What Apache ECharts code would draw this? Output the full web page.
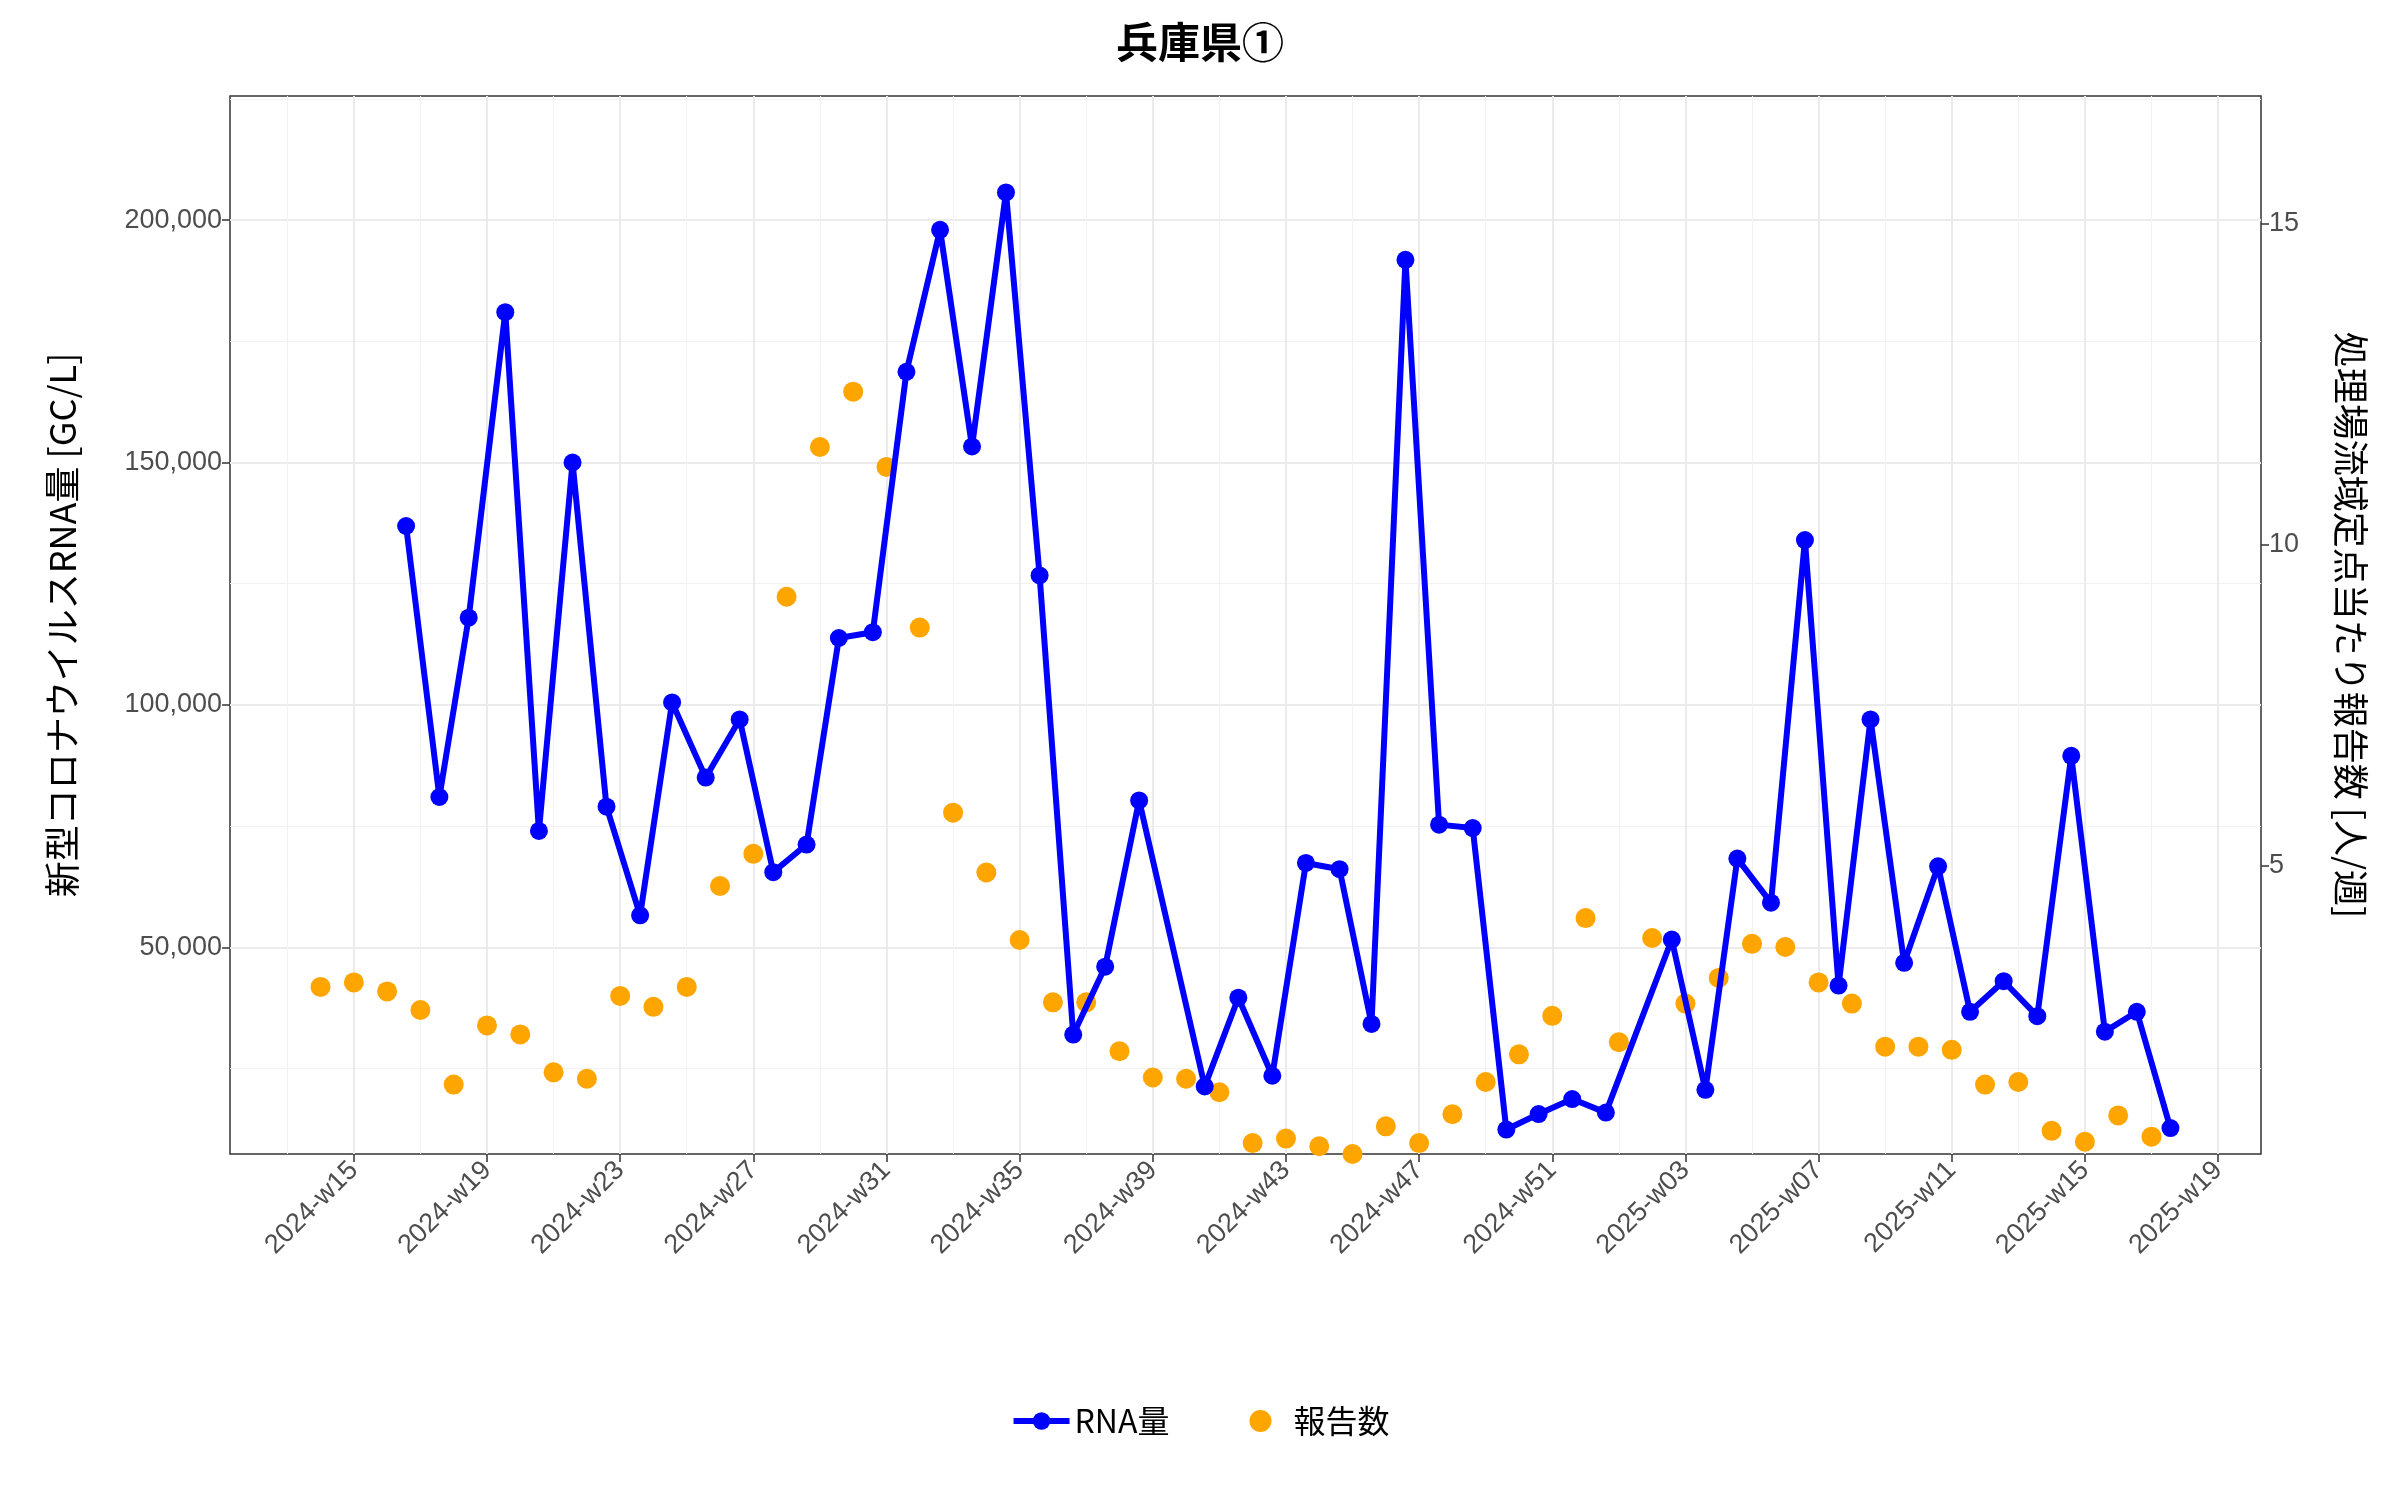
<!DOCTYPE html>
<html><head><meta charset="utf-8">
<script src="https://cdn.jsdelivr.net/npm/echarts@6/dist/echarts.min.js"></script>
<style>html,body{margin:0;background:#fff}#main{width:2400px;height:1500px}</style>
</head><body><div id="main"></div>
<script>
// weeks counted from 2024-w01 (2025-w01 = 53)
var rnaWeeks = [16.57,17.57,18.45,19.55,20.56,21.57,22.59,23.6,24.56,25.57,26.59,27.6,28.6,29.57,30.59,31.6,32.61,33.57,34.59,35.6,36.61,37.57,38.59,40.56,41.57,42.59,43.6,44.61,45.57,46.59,47.6,48.61,49.62,50.59,51.6,52.61,54.59,55.6,56.56,57.57,58.59,59.6,60.56,61.57,62.59,63.55,64.56,65.57,66.59,67.6,68.56,69.57];
var rnaValues = [136900,81000,118000,181000,74000,150000,79000,56600,100500,85000,97000,65500,71200,113800,115000,168700,198000,153300,205700,126700,32000,46000,80300,21300,39600,23500,67400,66100,34200,191800,75300,74600,12400,15600,18700,15900,51600,20600,68300,59200,134000,42100,97000,46800,66700,36700,43000,35800,89500,32600,36700,12700];
var reportWeeks = [14,15,16,17,18,19,20,21,22,23,24,25,26,27,28,29,30,31,32,33,34,35,36,37,38,39,40,41,42,43,44,45,46,47,48,49,50,51,52,53,54,55,56,57,58,59,60,61,62,63,64,65,66,67,68,69];
var reportValues = [3.12,3.19,3.05,2.76,1.6,2.52,2.38,1.79,1.69,2.98,2.81,3.12,4.69,5.19,9.19,11.52,12.38,11.21,8.71,5.83,4.9,3.85,2.88,2.88,2.12,1.71,1.69,1.48,0.69,0.76,0.64,0.52,0.95,0.69,1.14,1.64,2.07,2.67,4.19,2.26,3.88,2.86,3.26,3.79,3.74,3.19,2.86,2.19,2.19,2.14,1.6,1.64,0.88,0.71,1.12,0.79];
var xTicks = [15,19,23,27,31,35,39,43,47,51,55,59,63,67,71];
var xMinor = [13,17,21,25,29,33,37,41,45,49,53,57,61,65,69];
var leftTicks = [50000,100000,150000,200000];
var leftMinor = [25000,75000,125000,175000,225000];
var rightTicks = [5,10,15];

function weekLabel(v) {
    var w = Math.round(v);
    var y = 2024;
    if (w > 52) { w -= 52; y = 2025; }
    return y + '-w' + (w < 10 ? '0' + w : w);
}

var xMin = 11.28, xMax = 72.29;
var lMin = 7360, lMax = 225600, rMin = 0.52, rMax = 16.98;
var font = 'Liberation Sans, Arial, Noto Sans CJK JP';

var chart = echarts.init(document.getElementById('main'));
chart.setOption({
    backgroundColor: '#fff',
    textStyle: {fontFamily: font},
    title: {text: '兵庫県①', left: 'center', top: 16,
        textStyle: {fontSize: 42, fontWeight: 'bold', color: '#000', fontFamily: 'Noto Sans CJK JP'}},
    legend: {bottom: 58, itemGap: 80, itemWidth: 56, itemHeight: 22,
        textStyle: {fontSize: 32, color: '#000', fontFamily: 'Noto Sans CJK JP'},
        data: [{name: 'RNA量', itemStyle: {color: '#0000FF'}, lineStyle: {width: 6}}, {name: '報告数', icon: 'circle'}]},
    grid: {left: 230, right: 139, top: 96, bottom: 346, show: true, borderColor: '#333', borderWidth: 1.5},
    xAxis: [{
        type: 'value', min: xMin, max: xMax,
        axisLine: {show: false},
        axisTick: {show: true, length: 8, lineStyle: {color: '#333', width: 1.5}, customValues: xTicks},
        axisLabel: {customValues: xTicks, formatter: weekLabel, rotate: 45, fontSize: 27, color: '#4d4d4d', margin: 12},
        splitLine: {show: true, lineStyle: {color: '#ebebeb', width: 2}}
    }, {
        type: 'value', min: xMin, max: xMax, position: 'bottom',
        axisLine: {show: false}, axisLabel: {show: false, customValues: xMinor},
        axisTick: {show: false, customValues: xMinor},
        splitLine: {show: true, lineStyle: {color: '#f2f2f2', width: 1}}
    }],
    yAxis: [{
        type: 'value', min: lMin, max: lMax,
        name: '新型コロナウイルスRNA量 [GC/L]', nameLocation: 'middle', nameGap: 150, nameRotate: 90,
        nameTextStyle: {fontSize: 36, color: '#000', fontFamily: 'Noto Sans CJK JP'},
        axisLine: {show: false},
        axisTick: {show: true, length: 8, lineStyle: {color: '#333', width: 1.5}, customValues: leftTicks},
        axisLabel: {customValues: leftTicks, fontSize: 27, color: '#4d4d4d',
            formatter: function (v) { return v.toLocaleString('en-US'); }},
        splitLine: {show: true, lineStyle: {color: '#ebebeb', width: 2}}
    }, {
        type: 'value', min: rMin, max: rMax, position: 'right',
        name: '処理場流域定点当たり報告数 [人/週]', nameLocation: 'middle', nameGap: 72, nameRotate: -90,
        nameTextStyle: {fontSize: 36, color: '#000', fontFamily: 'Noto Sans CJK JP'},
        axisLine: {show: false},
        axisTick: {show: true, length: 8, lineStyle: {color: '#333', width: 1.5}, customValues: rightTicks},
        axisLabel: {customValues: rightTicks, fontSize: 27, color: '#4d4d4d'},
        splitLine: {show: false}
    }, {
        type: 'value', min: lMin, max: lMax, show: true,
        axisLine: {show: false}, axisTick: {show: false, customValues: leftMinor},
        axisLabel: {show: false, customValues: leftMinor},
        splitLine: {show: true, lineStyle: {color: '#f2f2f2', width: 1}}
    }],
    series: [{
        name: '報告数', type: 'scatter', yAxisIndex: 1, symbolSize: 20,
        itemStyle: {color: '#FFA500', opacity: 1},
        data: reportWeeks.map(function (w, i) { return [w, reportValues[i]]; })
    }, {
        name: 'RNA量', type: 'line', yAxisIndex: 0, symbol: 'circle', symbolSize: 18,
        lineStyle: {color: '#0000FF', width: 6}, itemStyle: {color: '#0000FF'},
        data: rnaWeeks.map(function (w, i) { return [w, rnaValues[i]]; })
    }]
});
</script></body></html>
